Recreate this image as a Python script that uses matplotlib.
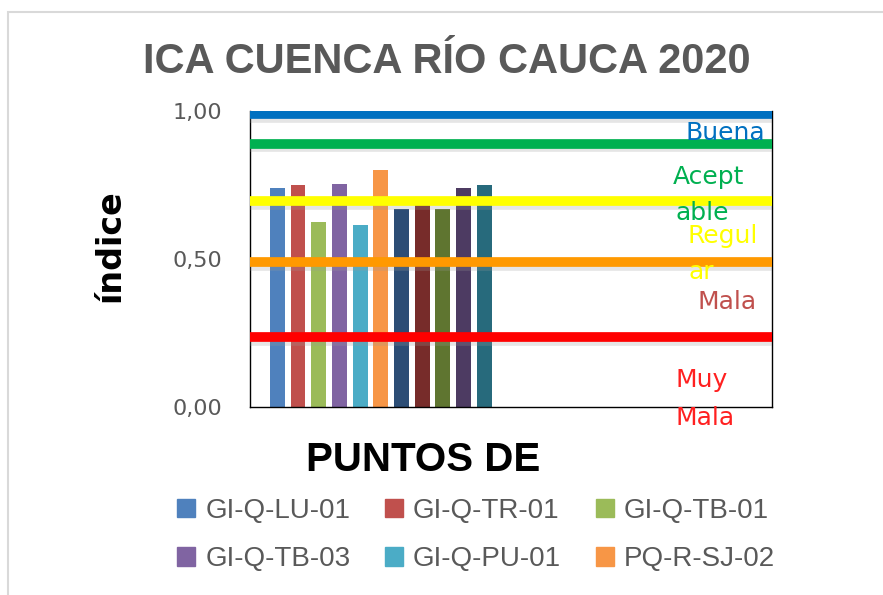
import matplotlib.pyplot as plt
from matplotlib.patches import Rectangle, Patch

# datos del ICA por punto de muestreo
puntos = ['GI-Q-LU-01', 'GI-Q-TR-01', 'GI-Q-TB-01',
          'GI-Q-TB-03', 'GI-Q-PU-01', 'PQ-R-SJ-02']
ica = [0.74, 0.75, 0.625, 0.755, 0.615, 0.80, 0.67, 0.71, 0.67, 0.74, 0.75]
colores = ['#4F81BD', '#C0504D', '#9BBB59', '#8064A2', '#4BACC6', '#F79646',
           '#2C4D75', '#772C2A', '#5F7530', '#4D3B62', '#276A7C']

# umbrales de calidad
umbrales = [0.99, 0.89, 0.695, 0.49, 0.235]
col_umbral = ['#0070C0', '#00B050', '#FFFF00', '#FF9900', '#FF0000']

fig = plt.figure(figsize=(8.83, 5.95), dpi=100)
W, H = 883, 595

# marco exterior del grafico
fig.patches.append(Rectangle((8 / W, -0.1), 1.1, 1 - 12 / H + 0.1, transform=fig.transFigure,
                             fill=False, edgecolor='#D9D9D9', linewidth=1.5))

ax = fig.add_axes([250 / W, 1 - 407 / H, 522 / W, 296 / H])

x = list(range(len(ica)))
bars = ax.bar(x, ica, width=0.72, color=colores, zorder=2)

for u, c in zip(umbrales, col_umbral):
    ax.axhline(u - 0.013, color='#999999', lw=7, alpha=0.25, zorder=3, xmin=0.01)
    ax.axhline(u, color=c, lw=7, zorder=4, xmin=0.005)

ax.set_xlim(-1.32, 23.9)
ax.set_ylim(0, 1.0)
ax.set_xticks([])
ax.set_yticks([0, 0.5, 1.0])
ax.set_yticklabels(['0,00', '0,50', '1,00'])
ax.tick_params(axis='y', length=0, pad=20, labelsize=16, labelcolor='#595959')
for s in ax.spines.values():
    s.set_color('black')
    s.set_linewidth(1)
ax.spines['top'].set_visible(False)

# etiquetas de categorias
etiquetas = [('Buena', 685, 133, '#0070C0'),
             ('Acept', 673, 177, '#00B050'),
             ('able', 675, 213, '#00B050'),
             ('Regul', 687, 236, '#FFFF00'),
             ('ar', 688, 272, '#FFFF00'),
             ('Mala', 697, 302, '#C0504D'),
             ('Muy', 675, 380, '#FF2020'),
             ('Mala', 675, 418, '#FF2020')]
for t, px, py, c in etiquetas:
    ax.text((px - 250) / 522, (407 - py) / 296, t, transform=ax.transAxes,
            ha='left', va='center', fontsize=18, color=c, zorder=5, clip_on=False)

fig.text(447 / W, 1 - 62 / H, 'ICA CUENCA RÍO CAUCA 2020', ha='center', va='center',
         fontsize=30, fontweight='bold', color='#595959',
         family=['Liberation Sans', 'DejaVu Sans'])
fig.text(110 / W, 1 - 246 / H, 'índice', rotation=90, ha='center', va='center',
         fontsize=24, fontweight='bold', color='black')
fig.text(423 / W, 1 - 460 / H, 'PUNTOS DE', ha='center', va='center',
         fontsize=29, fontweight='bold', color='black', family=['Liberation Sans'])

# leyenda llenada por filas
orden = [0, 3, 1, 4, 2, 5]
handles = [Patch(color=colores[i]) for i in orden]
fig.legend(handles, [puntos[i] for i in orden], loc='center',
           bbox_to_anchor=(476 / W, 1 - 535 / H), ncol=3,
           frameon=False, labelcolor='#595959', handlelength=0.65,
           handleheight=0.65, handletextpad=0.35, columnspacing=1.25, labelspacing=0.8,
           prop={'family': 'Liberation Sans', 'size': 20})

fig.savefig('out.png', dpi=100)
